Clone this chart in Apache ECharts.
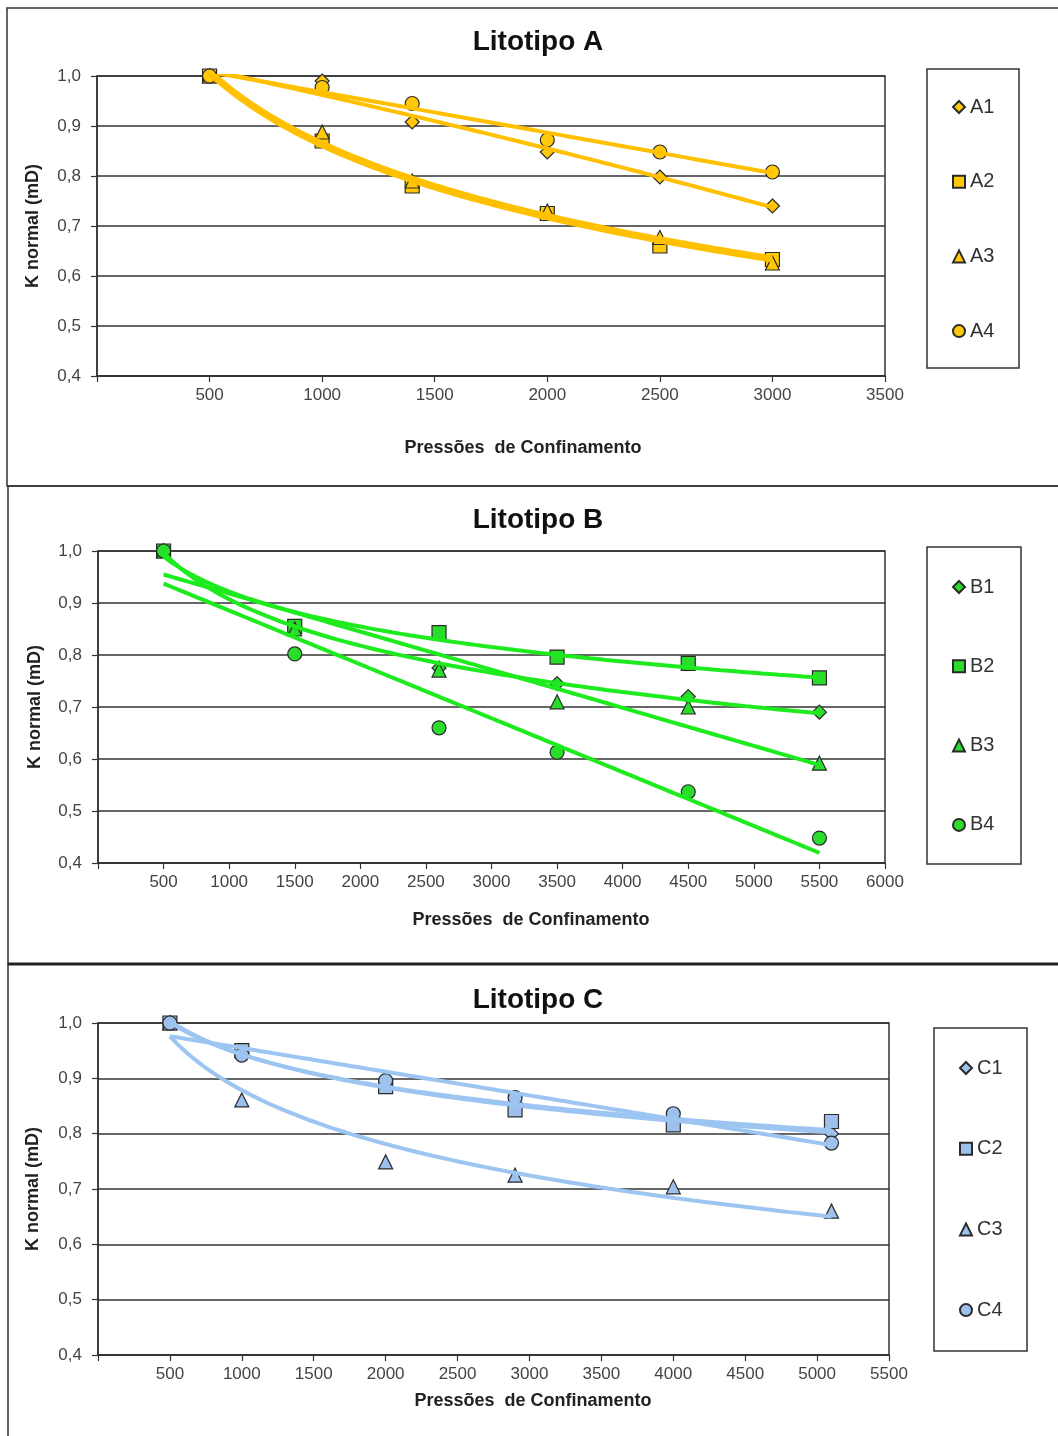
<!DOCTYPE html>
<html>
<head>
<meta charset="utf-8">
<title>Litotipos A, B e C</title>
<script src="https://cdn.jsdelivr.net/npm/echarts@6/dist/echarts.min.js"></script>
<style>
  html, body { margin: 0; padding: 0; background: #fff; }
  #chart { width: 1058px; height: 1436px; }
</style>
</head>
<body>
<div id="chart"></div>
<script>
// Normalized permeability versus confining pressure, three lithotypes.
const pressA = [500, 1000, 1400, 2000, 2500, 3000];
const A1 = [1.0, 0.99, 0.908, 0.848, 0.798, 0.74];
const A2 = [1.0, 0.87, 0.78, 0.725, 0.66, 0.633];
const A3 = [1.0, 0.888, 0.79, 0.73, 0.677, 0.626];
const A4 = [1.0, 0.977, 0.945, 0.872, 0.848, 0.808];

const pressB = [500, 1500, 2600, 3500, 4500, 5500];
const B1 = [1.0, 0.853, 0.775, 0.745, 0.72, 0.69];
const B2 = [1.0, 0.855, 0.843, 0.796, 0.784, 0.756];
const B3 = [1.0, 0.85, 0.771, 0.71, 0.70, 0.592];
const B4 = [1.0, 0.802, 0.66, 0.613, 0.537, 0.448];

const pressC = [500, 1000, 2000, 2900, 4000, 5100];
const C1 = [1.0, 0.945, 0.89, 0.85, 0.822, 0.80];
const C2 = [1.0, 0.95, 0.885, 0.843, 0.816, 0.822];
const C3 = [1.0, 0.861, 0.749, 0.725, 0.704, 0.66];
const C4 = [1.0, 0.942, 0.896, 0.865, 0.836, 0.783];

const yTicks = [0.4, 0.5, 0.6, 0.7, 0.8, 0.9, 1.0];
const xMaxA = 3500, xMaxB = 6000, xMaxC = 5500;

// Trendline model per series
const trendA = ['poly2', 'log', 'log', 'linear'];
const trendB = ['log', 'log', 'linear', 'linear'];
const trendC = ['log', 'log', 'log', 'linear'];

const symbols = ['diamond', 'rect', 'triangle', 'circle'];

// ---- least-squares fits ----
function linFit(xs, ys) {
  const n = xs.length;
  const mx = xs.reduce((a, b) => a + b, 0) / n;
  const my = ys.reduce((a, b) => a + b, 0) / n;
  let sxy = 0, sxx = 0;
  for (let i = 0; i < n; i++) { sxy += (xs[i] - mx) * (ys[i] - my); sxx += (xs[i] - mx) ** 2; }
  const b = sxy / sxx;
  return { a: my - b * mx, b };
}
function det3(m) {
  return m[0][0] * (m[1][1] * m[2][2] - m[1][2] * m[2][1])
       - m[0][1] * (m[1][0] * m[2][2] - m[1][2] * m[2][0])
       + m[0][2] * (m[1][0] * m[2][1] - m[1][1] * m[2][0]);
}
function poly2Fit(xs, ys) {
  const s = [0, 0, 0, 0, 0], t = [0, 0, 0];
  xs.forEach((x, i) => {
    for (let k = 0; k < 5; k++) s[k] += x ** k;
    for (let k = 0; k < 3; k++) t[k] += ys[i] * x ** k;
  });
  const M = [[s[0], s[1], s[2]], [s[1], s[2], s[3]], [s[2], s[3], s[4]]];
  const D = det3(M);
  const c = [0, 1, 2].map(j => {
    const Mj = M.map((row, r) => row.map((v, col) => (col === j ? t[r] : v)));
    return det3(Mj) / D;
  });
  return x => c[0] + c[1] * x + c[2] * x * x;
}
function trendFn(xs, ys, kind) {
  if (kind === 'log') {
    const f = linFit(xs.map(Math.log), ys);
    return x => f.a + f.b * Math.log(x);
  }
  if (kind === 'poly2') return poly2Fit(xs, ys);
  const f = linFit(xs, ys);
  return x => f.a + f.b * x;
}
function trendPoints(xs, ys, kind) {
  const fn = trendFn(xs, ys, kind);
  const x0 = Math.min(...xs), x1 = Math.max(...xs), n = 80, pts = [];
  for (let i = 0; i <= n; i++) { const x = x0 + (x1 - x0) * i / n; pts.push([x, fn(x)]); }
  return pts;
}

// ---- layout ----
const FONT = "'Liberation Sans', Arial, Helvetica, sans-serif";
const panels = [
  { key: 'A', title: 'Litotipo A', press: pressA, sets: [A1, A2, A3, A4], trend: trendA, xMax: xMaxA,
    grid: { left: 97, top: 76, width: 788, height: 300 }, titleTop: 28, xName: [523, 448], yNameGap: 55,
    line: '#FFC000', fill: '#FFC90A', lineW: 4,
    legendBox: [927, 69, 92, 299], legendLeft: 952, legendTop: 97, legendGap: 54.7 },
  { key: 'B', title: 'Litotipo B', press: pressB, sets: [B1, B2, B3, B4], trend: trendB, xMax: xMaxB,
    grid: { left: 98, top: 551, width: 787, height: 312 }, titleTop: 506, xName: [531, 920], yNameGap: 54,
    line: '#1EEB1E', fill: '#2ADD2A', lineW: 4,
    legendBox: [927, 547, 94, 317], legendLeft: 952, legendTop: 577, legendGap: 59.3 },
  { key: 'C', title: 'Litotipo C', press: pressC, sets: [C1, C2, C3, C4], trend: trendC, xMax: xMaxC,
    grid: { left: 98, top: 1023, width: 791, height: 332 }, titleTop: 986, xName: [533, 1401], yNameGap: 56,
    line: '#9CC5F2', fill: '#9DC0EC', lineW: 4,
    legendBox: [934, 1028, 93, 323], legendLeft: 959, legendTop: 1058, legendGap: 60.7 }
];

const option = {
  backgroundColor: '#fff',
  animation: false,
  title: [], legend: [], grid: [], xAxis: [], yAxis: [], series: [],
  graphic: [
    { type: 'rect', shape: { x: 7, y: 8, width: 1100, height: 478 }, style: { fill: 'none', stroke: '#333', lineWidth: 1.5 }, silent: true },
    { type: 'rect', shape: { x: 8, y: 486, width: 1100, height: 478 }, style: { fill: 'none', stroke: '#333', lineWidth: 1.5 }, silent: true },
    { type: 'rect', shape: { x: 8, y: 964, width: 1100, height: 500 }, style: { fill: 'none', stroke: '#333', lineWidth: 1.5 }, silent: true },
    { type: 'line', shape: { x1: 8, y1: 964, x2: 1058, y2: 964 }, style: { stroke: '#222', lineWidth: 3 }, silent: true }
  ]
};

panels.forEach((p, gi) => {
  option.title.push({
    text: p.title, left: 538, top: p.titleTop, textAlign: 'center', padding: 0,
    textStyle: { fontFamily: FONT, fontSize: 28, fontWeight: 'bold', color: '#111' }
  });
  option.grid.push(Object.assign({ show: true, borderColor: '#333', borderWidth: 1.5, backgroundColor: '#fff' }, p.grid));
  option.xAxis.push({
    type: 'value', gridIndex: gi, min: 0, max: p.xMax, interval: 500,
    axisLine: { lineStyle: { color: '#333', width: 1.5 } },
    axisTick: { show: true, length: 6, lineStyle: { color: '#333', width: 1.2 } },
    axisLabel: { fontFamily: FONT, fontSize: 17, color: '#444', margin: 11,
      formatter: v => (v === 0 ? '' : String(v)) },
    splitLine: { show: false }
  });
  // x-axis title, placed slightly right of the plot centre
  option.graphic.push({
    type: 'text', x: p.xName[0], y: p.xName[1], silent: true,
    style: { text: 'Pressões  de Confinamento', fill: '#222', align: 'center', verticalAlign: 'middle',
      font: "bold 18px 'Liberation Sans', Arial, sans-serif" }
  });
  option.yAxis.push({
    type: 'value', gridIndex: gi, min: yTicks[0], max: yTicks[yTicks.length - 1], interval: 0.1,
    name: 'K normal (mD)', nameLocation: 'middle', nameGap: p.yNameGap,
    nameTextStyle: { fontFamily: FONT, fontSize: 18, fontWeight: 'bold', color: '#222' },
    axisLine: { show: true, lineStyle: { color: '#333', width: 1.5 } },
    axisTick: { show: true, length: 6, lineStyle: { color: '#333', width: 1.2 } },
    axisLabel: { fontFamily: FONT, fontSize: 17, color: '#444', margin: 16,
      formatter: v => v.toFixed(1).replace('.', ',') },
    splitLine: { show: true, lineStyle: { color: '#333', width: 1.5 } }
  });

  const names = p.sets.map((_, i) => p.key + (i + 1));
  option.legend.push({
    data: names, orient: 'vertical', left: p.legendLeft, top: p.legendTop, padding: 0,
    itemWidth: 12, itemHeight: 12, itemGap: p.legendGap, selectedMode: false,
    textStyle: { fontFamily: FONT, fontSize: 20, color: '#333', lineHeight: 20 }
  });
  const b = p.legendBox;
  option.graphic.push({ type: 'rect', shape: { x: b[0], y: b[1], width: b[2], height: b[3] },
    style: { fill: 'none', stroke: '#333', lineWidth: 1.5 }, silent: true });

  p.sets.forEach((ys, i) => {
    option.series.push({
      type: 'scatter', name: names[i], xAxisIndex: gi, yAxisIndex: gi,
      symbol: symbols[i], symbolSize: 14, z: 2,
      itemStyle: { color: p.fill, borderColor: '#2a2a2a', borderWidth: 1.2, opacity: 1 },
      data: p.press.map((x, k) => [x, ys[k]])
    });
  });
  p.sets.forEach((ys, i) => {
    option.series.push({
      type: 'line', name: 'Tendência ' + names[i], xAxisIndex: gi, yAxisIndex: gi,
      showSymbol: false, symbol: 'none', silent: true, z: 3,
      lineStyle: { color: p.line, width: p.lineW },
      data: trendPoints(p.press, ys, p.trend[i])
    });
  });
});

const chart = echarts.init(document.getElementById('chart'), null, { renderer: 'canvas' });
chart.setOption(option);
</script>
</body>
</html>
